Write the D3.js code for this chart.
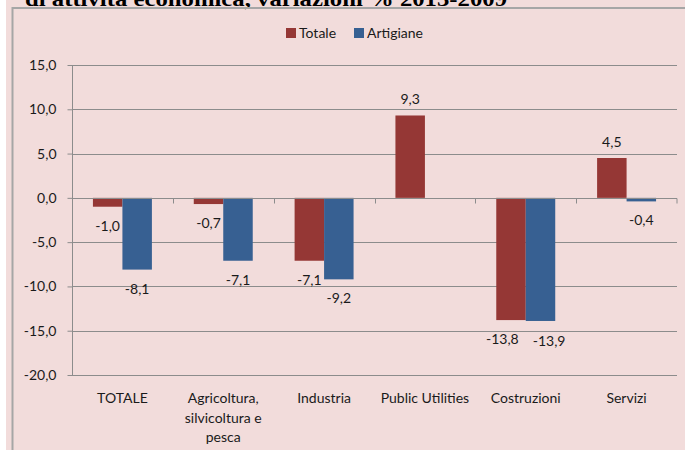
<!DOCTYPE html>
<html>
<head>
<meta charset="utf-8">
<script src="https://cdn.jsdelivr.net/npm/d3@7"></script>
<style>
  body { margin: 0; background: #ffffff; }
  svg { display: block; }
  text { font-family: Lato, "Open Sans", sans-serif; fill: #1a1a1a; }
</style>
</head>
<body>
<svg id="chart" width="685" height="450"></svg>
<script>
// dati
var categorie = ["TOTALE", "Agricoltura, silvicoltura e pesca", "Industria", "Public Utilities", "Costruzioni", "Servizi"];
var serie = ["Totale", "Artigiane"];
var totale = [-1.0, -0.7, -7.1, 9.3, -13.8, 4.5];
var artigiane = [-8.1, -7.1, -9.2, null, -13.9, -0.4];
var yTicks = [-20, -15, -10, -5, 0, 5, 10, 15];
var colori = ["#953735", "#376092"];

var valori = [totale, artigiane];
var fs = "14px";
var fmt = function(v) { return d3.format(".1f")(v).replace(".", ",").replace("\u2212", "-"); };

var svg = d3.select("#chart");

// sfondo + cornice
svg.append("rect").attr("x", 6).attr("y", 0).attr("width", 679).attr("height", 450).attr("fill", "#f2dcdb");

// titolo (tagliato in alto)
svg.append("text")
  .attr("x", 25).attr("y", 6)
  .attr("textLength", 482).attr("lengthAdjust", "spacingAndGlyphs")
  .style("font-family", "'Liberation Serif', 'DejaVu Serif', serif")
  .style("font-weight", "bold").style("font-size", "22px").style("fill", "#000")
  .text("di attività economica, variazioni % 2013-2009");

svg.append("rect").attr("x", 12.5).attr("y", 8).attr("width", 700).attr("height", 460)
  .attr("fill", "none").attr("stroke", "#a6a6a6").attr("stroke-width", 2);

// scale
var x0 = d3.scaleBand().domain(categorie).range([72, 677]).padding(0);
var x1 = d3.scaleBand().domain(serie).range([0, x0.bandwidth()]).paddingInner(0).paddingOuter(0.71);
var y = d3.scaleLinear().domain([-20, 15]).range([375, 65]);

// griglia
svg.append("g").selectAll("line").data(yTicks).enter().append("line")
  .attr("x1", 72).attr("x2", 677)
  .attr("y1", function(d) { return Math.round(y(d)) + 0.5; })
  .attr("y2", function(d) { return Math.round(y(d)) + 0.5; })
  .attr("stroke", "#8c8c8c").attr("stroke-width", 1);

// asse y
var yAxis = svg.append("g").attr("transform", "translate(72.5,0)")
  .call(d3.axisLeft(y).tickValues(yTicks).tickSize(5).tickPadding(11).tickFormat(fmt));
yAxis.selectAll("line").attr("stroke", "#8c8c8c");
yAxis.select(".domain").attr("stroke", "#8c8c8c").attr("d", "M0," + y(15) + "V" + y(-20));
yAxis.selectAll("text").style("font-size", fs).style("font-family", "Lato, 'Open Sans', sans-serif").attr("fill", "#1a1a1a");

// barre
var gruppi = svg.append("g").selectAll("g").data(categorie).enter().append("g")
  .attr("transform", function(d) { return "translate(" + x0(d) + ",0)"; });

gruppi.selectAll("rect")
  .data(function(d, i) { return serie.map(function(s, j) { return { s: s, j: j, v: valori[j][i] }; }); })
  .enter().filter(function(d) { return d.v !== null; })
  .append("rect")
  .attr("x", function(d) { return x1(d.s); })
  .attr("width", x1.bandwidth())
  .attr("y", function(d) { return y(Math.max(0, d.v)); })
  .attr("height", function(d) { return Math.abs(y(d.v) - y(0)); })
  .attr("fill", function(d) { return colori[d.j]; });

// etichette dati
gruppi.selectAll("text.lab")
  .data(function(d, i) { return serie.map(function(s, j) { return { s: s, j: j, v: valori[j][i] }; }); })
  .enter().filter(function(d) { return d.v !== null; })
  .append("text").attr("class", "lab")
  .attr("x", function(d) { return x1(d.s) + x1.bandwidth() / 2; })
  .attr("y", function(d) { return d.v >= 0 ? y(d.v) - 11 : y(d.v) + 24; })
  .attr("text-anchor", "middle").style("font-size", fs)
  .text(function(d) { return fmt(d.v); });

// allontana le etichette che si toccano (come fa Excel)
gruppi.each(function() {
  var labs = d3.select(this).selectAll("text.lab").nodes();
  if (labs.length < 2) return;
  var a = labs[0].getBBox(), b = labs[1].getBBox();
  var overlap = a.x + a.width + 14 - b.x;
  if (overlap > 0 && Math.abs(a.y - b.y) < a.height) {
    d3.select(labs[0]).attr("x", +d3.select(labs[0]).attr("x") - overlap / 2);
    d3.select(labs[1]).attr("x", +d3.select(labs[1]).attr("x") + overlap / 2).attr("y", +d3.select(labs[1]).attr("y") + 1);
  }
});

// asse dello zero con tacche
var y0 = Math.round(y(0)) + 0.5;
svg.append("line").attr("x1", 72).attr("x2", 677).attr("y1", y0).attr("y2", y0).attr("stroke", "#8c8c8c");
svg.append("g").selectAll("line").data(categorie.concat(["fine"])).enter().append("line")
  .attr("x1", function(d) { return d === "fine" ? 677 : Math.round(x0(d)) + 0.5; })
  .attr("x2", function(d) { return d === "fine" ? 677 : Math.round(x0(d)) + 0.5; })
  .attr("y1", y0).attr("y2", y0 + 5).attr("stroke", "#8c8c8c");

// etichette categorie (a capo)
var catLab = svg.append("g").selectAll("text").data(categorie).enter().append("text")
  .attr("x", function(d) { return x0(d) + x0.bandwidth() / 2; })
  .attr("y", 403).attr("text-anchor", "middle").style("font-size", fs);
catLab.each(function(d) {
  var t = d3.select(this), parole = d.split(" "), riga = [], n = 0;
  var ts = t.append("tspan").attr("x", t.attr("x")).attr("y", 403);
  parole.forEach(function(p) {
    riga.push(p);
    ts.text(riga.join(" "));
    if (ts.node().getComputedTextLength() > 98 && riga.length > 1) {
      riga.pop(); ts.text(riga.join(" "));
      riga = [p]; n++;
      ts = t.append("tspan").attr("x", t.attr("x")).attr("y", 403 + n * 19.5).text(p);
    }
  });
});

// legenda
var leg = svg.append("g").selectAll("g").data(serie).enter().append("g")
  .attr("transform", function(d, i) { return "translate(" + (i === 0 ? 286 : 354) + ",28)"; });
leg.append("rect").attr("width", 10).attr("height", 10).attr("fill", function(d, i) { return colori[i]; });
leg.append("text").attr("x", 13).attr("y", 9.5).style("font-size", fs).text(function(d) { return d; });
</script>
</body>
</html>
